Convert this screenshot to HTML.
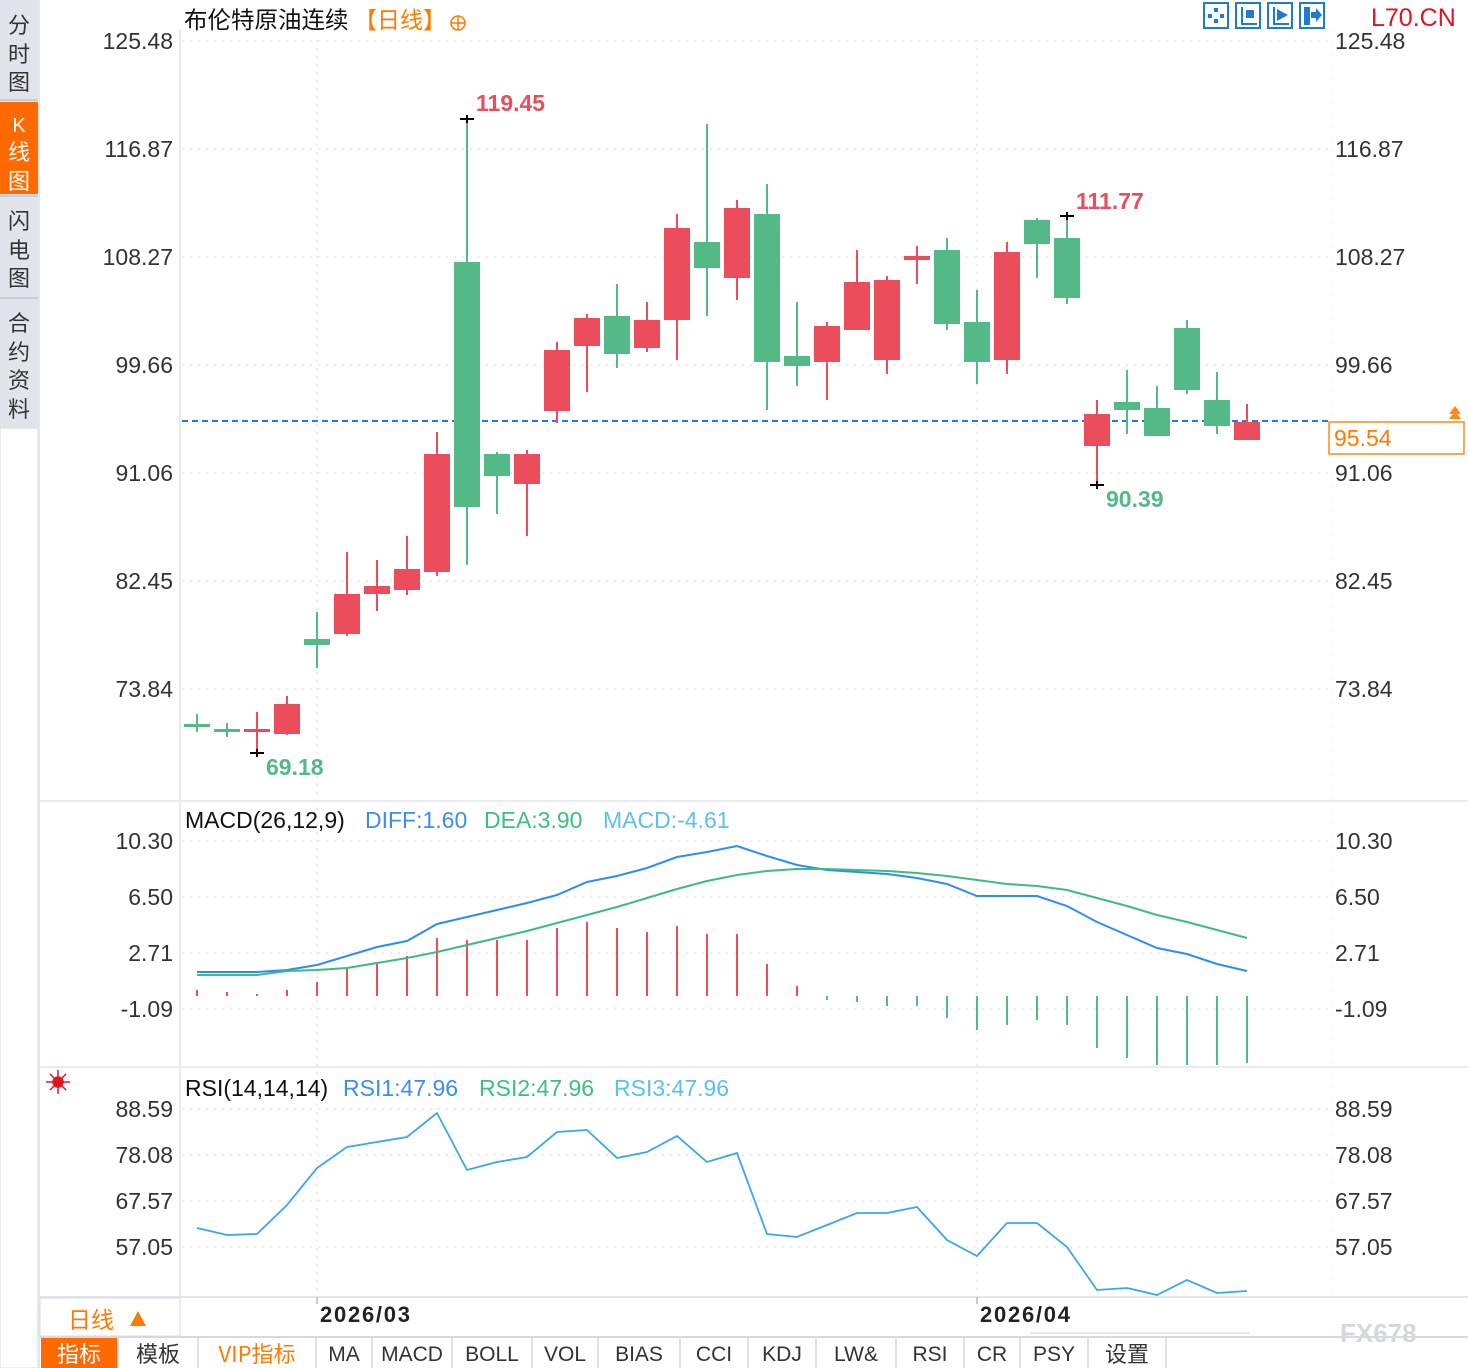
<!DOCTYPE html>
<html><head><meta charset="utf-8"><style>
html,body{margin:0;padding:0;background:#fff;}
svg{display:block;}
text{font-family:"Liberation Sans","Noto Sans CJK SC",sans-serif;}
.cj{font-family:"Noto Sans CJK SC","WenQuanYi Zen Hei",sans-serif;}
.tab{font-family:"Liberation Serif","Noto Serif CJK SC",serif;font-size:21px;fill:#333;}
</style></head><body>
<svg width="1468" height="1368" viewBox="0 0 1468 1368" xmlns="http://www.w3.org/2000/svg">
<rect width="1468" height="1368" fill="#fff"/>
<rect x="0" y="0" width="38" height="428" fill="#e1e4ea"/>
<rect x="0" y="102" width="38" height="92" fill="#ff6a00"/>
<line x1="0" y1="196" x2="38" y2="196" stroke="#c8ccd4" stroke-width="2"/>
<line x1="0" y1="298" x2="38" y2="298" stroke="#c8ccd4" stroke-width="2"/>
<line x1="0" y1="100" x2="38" y2="100" stroke="#c8ccd4" stroke-width="2"/>
<rect x="0" y="428" width="38" height="940" fill="#fff" stroke="#d6dae0"/>
<g class="cj" font-size="22" fill="#333" text-anchor="middle">
<text x="19" y="33">分</text><text x="19" y="62">时</text><text x="19" y="90">图</text>
<text x="19" y="132" fill="#fff" font-family="Liberation Serif" font-size="20">K</text><text x="19" y="160" fill="#fff">线</text><text x="19" y="189" fill="#fff">图</text>
<text x="19" y="229">闪</text><text x="19" y="258">电</text><text x="19" y="286">图</text>
<text x="19" y="331">合</text><text x="19" y="360">约</text><text x="19" y="388">资</text><text x="19" y="417">料</text>
</g>
<line x1="39" y1="0" x2="39" y2="1368" stroke="#e3e7ec" stroke-width="2"/>
<line x1="180" y1="30" x2="180" y2="1297" stroke="#e8ecf0" stroke-width="2"/>
<line x1="1331" y1="30" x2="1331" y2="1297" stroke="#e8ecf0" stroke-width="1" stroke-dasharray="2,10"/>
<line x1="40" y1="801" x2="1468" y2="801" stroke="#e8ecf0" stroke-width="2"/>
<line x1="40" y1="1067" x2="1468" y2="1067" stroke="#e8ecf0" stroke-width="2"/>
<line x1="40" y1="1297" x2="1468" y2="1297" stroke="#e3e7ec" stroke-width="2"/>
<g stroke="#e6e6e6" stroke-width="1.5" stroke-dasharray="2,6">
<line x1="182" y1="41" x2="1330" y2="41"/><line x1="182" y1="149" x2="1330" y2="149"/><line x1="182" y1="257" x2="1330" y2="257"/><line x1="182" y1="365" x2="1330" y2="365"/><line x1="182" y1="473" x2="1330" y2="473"/><line x1="182" y1="581" x2="1330" y2="581"/><line x1="182" y1="689" x2="1330" y2="689"/>
<line x1="182" y1="841" x2="1330" y2="841"/><line x1="182" y1="897" x2="1330" y2="897"/><line x1="182" y1="953" x2="1330" y2="953"/><line x1="182" y1="1009" x2="1330" y2="1009"/>
<line x1="182" y1="1109" x2="1330" y2="1109"/><line x1="182" y1="1155" x2="1330" y2="1155"/><line x1="182" y1="1201" x2="1330" y2="1201"/><line x1="182" y1="1247" x2="1330" y2="1247"/>
<line x1="317" y1="40" x2="317" y2="1297"/><line x1="977" y1="40" x2="977" y2="1297"/>
</g>
<text x="184" y="28" class="cj" font-size="23.5" fill="#111">布伦特原油连续</text>
<text x="354" y="28" class="cj" font-size="23" fill="#ff7a00">【日线】</text>
<circle cx="458" cy="23" r="7" fill="none" stroke="#ff7a00" stroke-width="1.5"/><line x1="451" y1="23" x2="465" y2="23" stroke="#ff7a00" stroke-width="1.5"/><line x1="458" y1="16" x2="458" y2="30" stroke="#ff7a00" stroke-width="1.5"/>
<g fill="none" stroke="#1e7bd0" stroke-width="2">
<rect x="1204" y="3" width="24" height="25"/><rect x="1236" y="3" width="24" height="25"/><rect x="1268" y="3" width="24" height="25"/><rect x="1300" y="3" width="24" height="25"/>
</g>
<g fill="#1e7bd0"><rect x="1214" y="8" width="4" height="4"/><rect x="1214" y="19" width="4" height="4"/><rect x="1208" y="14" width="4" height="4"/><rect x="1220" y="14" width="4" height="4"/>
<rect x="1241" y="7" width="2" height="18"/><rect x="1241" y="23" width="16" height="2"/><rect x="1246" y="10" width="8" height="8"/>
<rect x="1273" y="7" width="2" height="18"/><rect x="1273" y="23" width="16" height="2"/><polygon points="1277,9 1288,15 1277,21"/>
<rect x="1304" y="7" width="6" height="18"/><polygon points="1311,12 1316,12 1316,8 1322,15 1316,22 1316,18 1311,18"/></g>
<text x="1371" y="26" font-size="25" fill="#e0141e">L70.CN</text>
<g font-size="23" fill="#333" text-anchor="end">
<text x="173" y="49">125.48</text><text x="173" y="157">116.87</text><text x="173" y="265">108.27</text><text x="173" y="373">99.66</text><text x="173" y="481">91.06</text><text x="173" y="589">82.45</text><text x="173" y="697">73.84</text>
<text x="173" y="849">10.30</text><text x="173" y="905">6.50</text><text x="173" y="961">2.71</text><text x="173" y="1017">-1.09</text>
<text x="173" y="1117">88.59</text><text x="173" y="1163">78.08</text><text x="173" y="1209">67.57</text><text x="173" y="1255">57.05</text>
</g>
<g font-size="23" fill="#333">
<text x="1335" y="49">125.48</text><text x="1335" y="157">116.87</text><text x="1335" y="265">108.27</text><text x="1335" y="373">99.66</text><text x="1335" y="481">91.06</text><text x="1335" y="589">82.45</text><text x="1335" y="697">73.84</text>
<text x="1335" y="849">10.30</text><text x="1335" y="905">6.50</text><text x="1335" y="961">2.71</text><text x="1335" y="1017">-1.09</text>
<text x="1335" y="1117">88.59</text><text x="1335" y="1163">78.08</text><text x="1335" y="1209">67.57</text><text x="1335" y="1255">57.05</text>
</g>
<line x1="182" y1="421" x2="1330" y2="421" stroke="#1a7fe8" stroke-width="2" stroke-dasharray="6,4"/>
<rect x="1329" y="422" width="135" height="32" fill="#fff" stroke="#ff8a1a" stroke-width="1.5"/>
<text x="1334" y="446" font-size="23" fill="#ff7a00">95.54</text>
<polygon points="1449,414 1455,406 1461,414" fill="#ff8a1a"/><polygon points="1449,419 1455,411 1461,419" fill="#ff8a1a"/>
<g id="candles"></g>
<g stroke="#000" stroke-width="2">
<line x1="460" y1="119" x2="474" y2="119"/><line x1="467" y1="115" x2="467" y2="123"/>
<line x1="250" y1="753" x2="264" y2="753"/><line x1="257" y1="749" x2="257" y2="757"/>
<line x1="1060" y1="216" x2="1074" y2="216"/><line x1="1067" y1="212" x2="1067" y2="220"/>
<line x1="1090" y1="485" x2="1104" y2="485"/><line x1="1097" y1="481" x2="1097" y2="489"/>
</g>
<g font-size="23" font-weight="bold">
<text x="476" y="111" fill="#eb4d5c">119.45</text>
<text x="266" y="775" fill="#52b987">69.18</text>
<text x="1076" y="209" fill="#eb4d5c">111.77</text>
<text x="1106" y="507" fill="#52b987">90.39</text>
</g>
<text x="185" y="828" font-size="23" fill="#111">MACD(26,12,9)</text>
<text x="365" y="828" font-size="23" fill="#3a8ef0">DIFF:1.60</text>
<text x="484" y="828" font-size="23" fill="#3cc080">DEA:3.90</text>
<text x="603" y="828" font-size="23" fill="#5bc0f0">MACD:-4.61</text>
<g id="macdbars"></g>
<polyline id="diff" fill="none" stroke="#2e8ef0" stroke-width="2"/>
<polyline id="dea" fill="none" stroke="#3cbc80" stroke-width="2"/>
<g stroke="#e0141e" stroke-width="1.5"><circle cx="58" cy="1082" r="5" fill="#e0141e"/><line x1="46" y1="1082" x2="70" y2="1082"/><line x1="58" y1="1070" x2="58" y2="1094"/><line x1="50" y1="1074" x2="66" y2="1090"/><line x1="66" y1="1074" x2="50" y2="1090"/></g>
<text x="185" y="1096" font-size="23" fill="#111">RSI(14,14,14)</text>
<text x="343" y="1096" font-size="23" fill="#3a8ef0">RSI1:47.96</text>
<text x="479" y="1096" font-size="23" fill="#3cc080">RSI2:47.96</text>
<text x="614" y="1096" font-size="23" fill="#5bc0f0">RSI3:47.96</text>
<polyline id="rsi" fill="none" stroke="#39a9e6" stroke-width="1.8"/>
<rect x="40" y="1298" width="140" height="38" fill="#fff" stroke="#d6dae0"/>
<text x="68" y="1328" class="cj" font-size="23" fill="#ff7a00">日线</text>
<polygon points="130,1326 138,1311 146,1326" fill="#ff7a00"/>
<line x1="317" y1="1297" x2="317" y2="1304" stroke="#999"/><line x1="977" y1="1297" x2="977" y2="1304" stroke="#999"/>
<text x="320" y="1322" font-size="22" font-weight="bold" fill="#222" textLength="90">2026/03</text>
<text x="980" y="1322" font-size="22" font-weight="bold" fill="#222" textLength="90">2026/04</text>
<line x1="1030" y1="1333" x2="1250" y2="1333" stroke="#e3e7ec" stroke-width="2"/>
<text x="1340" y="1342" font-size="26" font-weight="bold" fill="#d4d8de">FX678</text>
<line x1="40" y1="1337" x2="1468" y2="1337" stroke="#d6dae0" stroke-width="2"/>
<rect x="41" y="1338" width="77" height="30" fill="#ff6a00"/>
<g stroke="#d6dae0" stroke-width="1.5">
<line x1="118" y1="1338" x2="118" y2="1368"/><line x1="198" y1="1338" x2="198" y2="1368"/><line x1="316" y1="1338" x2="316" y2="1368"/><line x1="372" y1="1338" x2="372" y2="1368"/><line x1="452" y1="1338" x2="452" y2="1368"/><line x1="532" y1="1338" x2="532" y2="1368"/><line x1="598" y1="1338" x2="598" y2="1368"/><line x1="680" y1="1338" x2="680" y2="1368"/><line x1="748" y1="1338" x2="748" y2="1368"/><line x1="816" y1="1338" x2="816" y2="1368"/><line x1="896" y1="1338" x2="896" y2="1368"/><line x1="964" y1="1338" x2="964" y2="1368"/><line x1="1020" y1="1338" x2="1020" y2="1368"/><line x1="1088" y1="1338" x2="1088" y2="1368"/><line x1="1166" y1="1338" x2="1166" y2="1368"/>
</g>
<g class="tab" text-anchor="middle">
<text x="79" y="1362" fill="#fff" class="cj" font-size="22">指标</text>
<text x="158" y="1362" class="cj" font-size="22">模板</text>
<text x="257" y="1362" class="cj" font-size="22" fill="#ff7a00">VIP指标</text>
<text x="344" y="1361">MA</text><text x="412" y="1361">MACD</text><text x="492" y="1361">BOLL</text><text x="565" y="1361">VOL</text><text x="639" y="1361">BIAS</text><text x="714" y="1361">CCI</text><text x="782" y="1361">KDJ</text><text x="856" y="1361">LW&amp;</text><text x="930" y="1361">RSI</text><text x="992" y="1361">CR</text><text x="1054" y="1361">PSY</text>
<text x="1127" y="1362" class="cj" font-size="22">设置</text>
</g>
</svg>
<script>
var R="#eb4d5c",G="#52b987",NS="http://www.w3.org/2000/svg";
var c=[[197,714,732,724,727,G],[227,723,737,729,732,G],[257,712,753,729,732,R],[287,696,735,704,734,R],[317,612,668,639,645,G],[347,552,636,594,634,R],[377,560,611,586,594,R],[407,536,595,569,590,R],[437,432,576,454,572,R],[467,119,565,262,507,G],[497,452,514,454,476,G],[527,450,536,454,484,R],[557,342,423,350,411,R],[587,314,392,318,346,R],[617,284,368,316,354,G],[647,302,352,320,348,R],[677,214,360,228,320,R],[707,124,316,242,268,G],[737,200,300,208,278,R],[767,184,410,214,362,G],[797,302,386,356,366,G],[827,322,400,326,362,R],[857,250,330,282,330,R],[887,276,374,280,360,R],[917,246,284,256,260,R],[947,238,330,250,324,G],[977,290,384,322,362,G],[1007,242,374,252,360,R],[1037,218,278,220,244,G],[1067,216,304,238,298,G],[1097,400,485,414,446,R],[1127,370,434,402,410,G],[1157,386,436,408,436,G],[1187,320,394,328,390,G],[1217,372,434,400,426,G],[1247,404,440,422,440,R]];
var g=document.getElementById("candles");
function el(n,a,p){var e=document.createElementNS(NS,n);for(var k in a)e.setAttribute(k,a[k]);p.appendChild(e);}
c.forEach(function(d){el("line",{x1:d[0],x2:d[0],y1:d[1],y2:d[2],stroke:d[5],"stroke-width":2},g);el("rect",{x:d[0]-13,y:d[3],width:26,height:Math.max(3,d[4]-d[3]),fill:d[5]},g);});
var xs=[];for(var i=0;i<36;i++)xs.push(197+30*i);
var mb=[990,992,994,990,982,968,962,956,938,940,940,940,928,922,928,932,926,934,934,964,986,1000,1002,1006,1006,1018,1030,1025,1020,1025,1048,1058,1065,1065,1065,1063];
var mg=document.getElementById("macdbars");
mb.forEach(function(y,i){var red=y<996;el("line",{x1:xs[i],x2:xs[i],y1:red?y:996,y2:red?996:y,stroke:red?R:G,"stroke-width":2},mg);});
var diff=[972,972,972,970,965,956,947,941,924,917,910,903,895,882,876,868,857,852,846,856,865,870,872,874,878,884,896,896,896,906,922,935,948,954,964,971];
var dea=[975,975,975,971,970,968,963,958,952,945,938,931,923,915,907,898,889,881,875,871,869,869,870,871,873,876,880,884,886,890,898,906,915,922,930,938];
var rsi=[1228,1235,1234,1205,1168,1147,1142,1137,1113,1170,1162,1157,1132,1130,1158,1152,1136,1162,1153,1234,1237,1225,1213,1213,1207,1240,1256,1223,1223,1247,1290,1288,1295,1280,1293,1291];
function pts(a){return a.map(function(y,i){return xs[i]+","+y;}).join(" ");}
document.getElementById("diff").setAttribute("points",pts(diff));
document.getElementById("dea").setAttribute("points",pts(dea));
document.getElementById("rsi").setAttribute("points",pts(rsi));
</script>
</body></html>
